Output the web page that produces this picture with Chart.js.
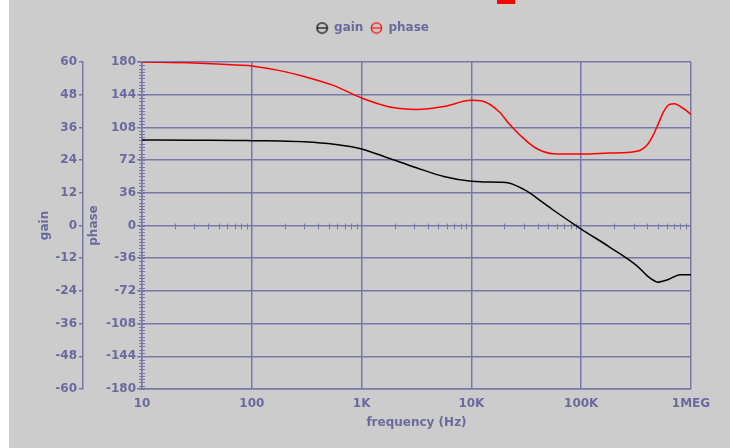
<!DOCTYPE html>
<html>
<head>
<meta charset="utf-8">
<script src="https://cdn.jsdelivr.net/npm/chart.js@4.4.1/dist/chart.umd.min.js"></script>
<style>
  html, body { margin: 0; padding: 0; background: #fff; width: 730px; height: 448px; overflow: hidden; }
  #wrap { position: absolute; left: 9px; top: 0; width: 721px; height: 448px; background: #cccccc; }
  #mark { position: absolute; left: 497px; top: 0; width: 18px; height: 4px; background: #ff0000; }
</style>
</head>
<body>
<div id="wrap"><canvas id="bode" width="721" height="448"></canvas></div>
<div id="mark"></div>
<script>
// valeurs
const freq  = [10, 30, 80, 100, 180, 300, 560, 1000, 1800, 3200, 5600, 10000, 12500, 18000, 22000,
               32000, 40000, 56000, 100000, 180000, 320000, 400000, 450000, 500000, 560000,
               630000, 710000, 800000, 900000, 1000000];
const gain  = [31.4, 31.3, 31.2, 31.1, 31.0, 30.7, 29.8, 28.1, 24.6, 21.1, 18.0, 16.2, 16.0, 15.9, 15.6,
               12.6, 9.9, 5.6, -1.3, -7.8, -14.7, -18.5, -20.0, -20.8, -20.4,
               -19.7, -18.7, -18.1, -18.1, -18.1];
const phase = [180, 179, 176.5, 175.6, 170.5, 164, 154, 140.3, 130.5, 127.8, 131, 137.8, 137, 125, 112,
               92.6, 84.2, 79, 78.6, 79.7, 81.7, 88.9, 99, 111, 124.7,
               133, 134, 131, 126.7, 122.3];

const freqTicks  = [10, 100, 1000, 10000, 100000, 1000000];
const freqLabels = ['10', '100', '1K', '10K', '100K', '1MEG'];

const textColor = '#6a6a9e';
const gridColor = '#7878a8';
const bold12 = { family: '"DejaVu Sans", sans-serif', size: 12, weight: 'bold' };

function legendSymbol(color) {
    const c = document.createElement('canvas');
    c.width = 13; c.height = 13;
    const g = c.getContext('2d');
    g.strokeStyle = color;
    g.lineWidth = 1.2;
    g.beginPath(); g.arc(6.5, 6.5, 5.2, 0, Math.PI * 2); g.stroke();
    g.beginPath(); g.moveTo(1, 6.5); g.lineTo(12, 6.5); g.stroke();
    return c;
}

// petites graduations (axe phase + ligne du zéro)
const minorTicks = {
    id: 'minorTicks',
    beforeDatasetsDraw(chart) {
        const { ctx, scales: { x, yPhase } } = chart;
        ctx.save();
        ctx.strokeStyle = gridColor;
        ctx.lineWidth = 1;
        ctx.beginPath();
        const ax = yPhase.right;
        for (let i = 0; i <= 100; i++) {
            const y = Math.round(yPhase.getPixelForValue(-180 + i * 3.6)) + 0.5;
            ctx.moveTo(ax - 3, y); ctx.lineTo(ax + 3, y);
        }
        const y0 = Math.round(yPhase.getPixelForValue(0)) + 0.5;
        for (let d = 10; d < 1000000; d *= 10) {
            for (let m = 2; m <= 9; m++) {
                const px = Math.round(x.getPixelForValue(d * m)) + 0.5;
                ctx.moveTo(px, y0 - 3); ctx.lineTo(px, y0 + 3);
            }
        }
        ctx.stroke();
        ctx.restore();
    }
};

// espace sous la légende + recentrage
const legendGap = {
    id: 'legendGap',
    beforeInit(chart) {
        const fit = chart.legend.fit;
        chart.legend.fit = function () {
            fit.bind(chart.legend)();
            this.height += 18;
        };
    },
    afterLayout(chart) {
        chart.legend.left += 10;
        chart.legend.right += 10;
    }
};

const ctx = document.getElementById('bode').getContext('2d');

new Chart(ctx, {
    type: 'line',
    data: {
        datasets: [{
            label: 'gain',
            data: freq.map((f, i) => ({ x: f, y: gain[i] })),
            yAxisID: 'yGain',
            borderColor: '#000000',
            borderWidth: 1.5,
            pointRadius: 0,
            pointStyle: legendSymbol('#000000'),
            cubicInterpolationMode: 'monotone'
        }, {
            label: 'phase',
            data: freq.map((f, i) => ({ x: f, y: phase[i] })),
            yAxisID: 'yPhase',
            borderColor: '#ff0000',
            borderWidth: 1.5,
            pointRadius: 0,
            pointStyle: legendSymbol('#ff0000'),
            cubicInterpolationMode: 'monotone'
        }]
    },
    options: {
        responsive: false,
        animation: false,
        layout: { padding: { top: 15, left: 25, right: 39, bottom: 14 } },
        plugins: {
            legend: {
                labels: { usePointStyle: true, font: bold12, color: textColor, padding: 7 }
            },
            tooltip: { enabled: false }
        },
        scales: {
            x: {
                type: 'logarithmic',
                min: 10,
                max: 1000000,
                afterBuildTicks: s => { s.ticks = freqTicks.map(v => ({ value: v })); },
                afterFit: s => { s.height = 45; },
                ticks: {
                    callback: (v, i) => freqLabels[i],
                    color: textColor, font: bold12, padding: 8, autoSkip: false, maxRotation: 0
                },
                grid: { color: gridColor, lineWidth: 1.5, drawTicks: false },
                border: { color: gridColor, width: 1.5 },
                title: { display: true, text: 'frequency (Hz)', color: textColor, font: bold12 }
            },
            yPhase: {
                position: 'left',
                weight: 0,
                min: -180,
                max: 180,
                afterFit: s => { s.width = 59; },
                ticks: { stepSize: 36, color: textColor, font: bold12, padding: 1 },
                grid: { color: gridColor, lineWidth: 1.5, tickLength: 5 },
                border: { color: gridColor, width: 1.5 },
                title: { display: true, text: 'phase', color: textColor, font: bold12 }
            },
            yGain: {
                position: 'left',
                weight: 1,
                min: -60,
                max: 60,
                afterFit: s => { s.width = 49; },
                ticks: { stepSize: 12, color: textColor, font: bold12, padding: 2 },
                grid: { drawOnChartArea: false, color: gridColor, lineWidth: 1.5, tickLength: 4 },
                border: { color: gridColor, width: 1.5 },
                title: { display: true, text: 'gain', color: textColor, font: bold12 }
            }
        }
    },
    plugins: [minorTicks, legendGap]
});
</script>
</body>
</html>
